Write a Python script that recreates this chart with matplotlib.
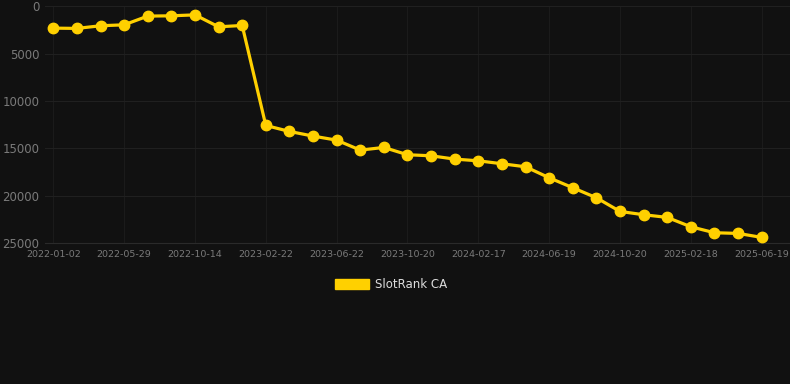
import matplotlib
matplotlib.use('Agg')
import matplotlib.pyplot as plt
from matplotlib.patches import Patch

# dates (only every third one is labelled on the chart)
dates = ['2022-01-02', '2022-02-20', '2022-04-10', '2022-05-29', '2022-07-15',
         '2022-08-30', '2022-10-14', '2022-11-30', '2023-01-10', '2023-02-22',
         '2023-04-02', '2023-05-12', '2023-06-22', '2023-08-01', '2023-09-10',
         '2023-10-20', '2023-11-28', '2024-01-08', '2024-02-17', '2024-03-28',
         '2024-05-08', '2024-06-19', '2024-07-30', '2024-09-08', '2024-10-20',
         '2024-11-28', '2025-01-08', '2025-02-18', '2025-03-30', '2025-05-09',
         '2025-06-19']
rank = [2320, 2350, 2070, 1970, 1050, 1020, 920, 2180, 2040, 12590,
        13220, 13710, 14140, 15190, 14910, 15680, 15790, 16140, 16320, 16630,
        16950, 18110, 19160, 20220, 21660, 22010, 22290, 23280, 23910, 23980,
        24400]
yticks = [0, 5000, 10000, 15000, 20000, 25000]
series_name = 'SlotRank CA'

bg = '#111111'
gold = '#FFD000'

fig = plt.figure(figsize=(7.9, 3.84), dpi=100, facecolor=bg)
ax = fig.add_axes([0.057, 0.367, 0.943, 0.617], facecolor=bg)

x = list(range(len(dates)))
ax.plot(x, rank, color=gold, lw=2.3, marker='o', ms=7.5, mec=gold, mfc=gold,
        solid_joinstyle='round', zorder=3)

ax.set_ylim(25000, 0)
ax.set_yticks(yticks)
ax.set_xlim(-0.35, 31.2)
ax.set_xticks(x[::3])
ax.set_xticklabels(dates[::3])

ax.grid(True, axis='y', color='#202020', lw=0.8)
ax.grid(True, axis='x', color='#1b1b1b', lw=0.8)
for s in ax.spines.values():
    s.set_visible(False)
ax.spines['bottom'].set_visible(True)
ax.spines['bottom'].set_color('#2a2a2a')
ax.spines['bottom'].set_linewidth(0.8)
ax.tick_params(axis='y', colors='#7a7a7a', labelsize=8.5, length=0, pad=4)
ax.tick_params(axis='x', colors='#7a7a7a', labelsize=6.8, length=0, pad=5)

fig.legend(handles=[Patch(facecolor=gold, edgecolor=gold)], labels=[series_name],
           loc='center', bbox_to_anchor=(0.495, 0.258), frameon=False,
           handlelength=2.9, handleheight=0.9, handletextpad=0.5,
           prop={'size': 8.5}, labelcolor='#dddddd')

fig.savefig('out.png', dpi=100, facecolor=bg)
